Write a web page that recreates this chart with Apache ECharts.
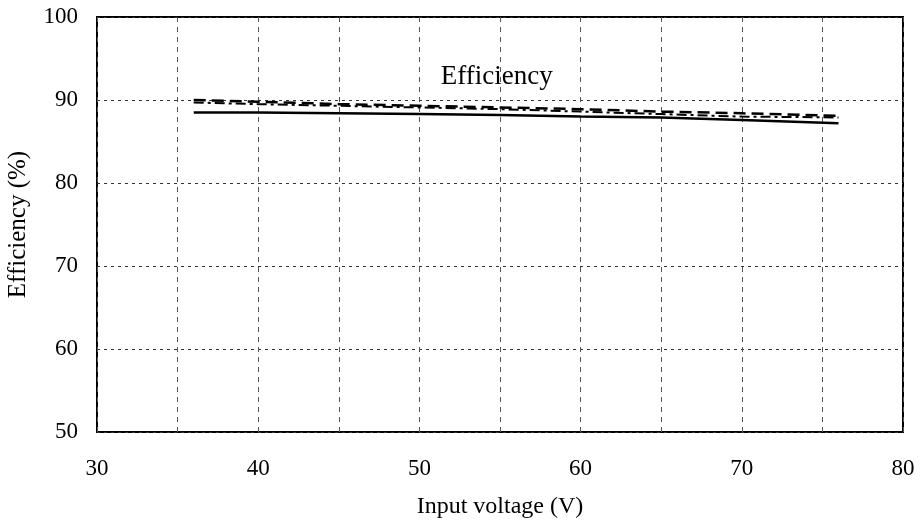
<!DOCTYPE html>
<html><head><meta charset="utf-8">
<script src="https://cdn.jsdelivr.net/npm/echarts@6/dist/echarts.min.js"></script>
<style>html,body{margin:0;padding:0;background:#fff}#c{width:923px;height:528px}</style>
</head><body><div id="c"></div>
<script>
const voltage = [36, 40, 45, 50, 55, 60, 65, 70, 76];
const effSolid = [88.5, 88.5, 88.4, 88.3, 88.2, 88.0, 87.9, 87.6, 87.2];
const effDashed = [90.0, 89.8, 89.5, 89.3, 89.1, 88.9, 88.6, 88.4, 88.1];
const effDashDot = [89.7, 89.5, 89.3, 89.1, 88.9, 88.6, 88.3, 88.0, 87.9];
const xTicks = [30, 40, 50, 60, 70, 80];
const yTicks = [50, 60, 70, 80, 90, 100];
const annotation = 'Efficiency';

const font = 'Liberation Serif, Times New Roman, serif';
const pair = (ys) => voltage.map((v, i) => [v, ys[i]]);
const chart = echarts.init(document.getElementById('c'));
chart.setOption({
  animation: false,
  backgroundColor: '#fff',
  grid: {left: 97, right: 20, top: 17, bottom: 96, outerBoundsMode: 'none', containLabel: false,
         show: true, borderColor: '#000', borderWidth: 2, backgroundColor: 'transparent'},
  xAxis: {
    type: 'value', min: 30, max: 80, interval: 5,
    name: 'Input voltage (V)', nameLocation: 'middle', nameGap: 63,
    nameTextStyle: {fontFamily: font, fontSize: 24, color: '#000'},
    axisLine: {show: false}, axisTick: {show: false},
    axisLabel: {fontFamily: font, fontSize: 23, color: '#000', margin: 25,
      formatter: v => xTicks.includes(v) ? String(v) : ''},
    splitLine: {show: true, lineStyle: {color: '#555', type: [5, 5], width: 1}}
  },
  yAxis: {
    type: 'value', min: 50, max: 100, interval: 10,
    name: 'Efficiency (%)', nameLocation: 'middle', nameGap: 66,
    nameTextStyle: {fontFamily: font, fontSize: 25, color: '#000'},
    axisLine: {show: false}, axisTick: {show: false},
    axisLabel: {fontFamily: font, fontSize: 23, color: '#000', margin: 19,
      formatter: v => yTicks.includes(v) ? String(v) : ''},
    splitLine: {show: true, lineStyle: {color: '#333', type: [3, 4], width: 1}}
  },
  series: [
    {type: 'line', data: pair(effSolid), showSymbol: false, lineStyle: {color: '#000', width: 2.5, type: 'solid'}},
    {type: 'line', data: pair(effDashed), showSymbol: false, lineStyle: {color: '#000', width: 2.5, type: [12, 6]}},
    {type: 'line', data: pair(effDashDot), showSymbol: false, lineStyle: {color: '#000', width: 2, type: [10, 4, 3, 4]},
     markPoint: {symbol: 'rect', symbolSize: 0,
       data: [{coord: [54.8, 92.8], value: annotation}],
       label: {show: true, formatter: annotation, fontFamily: font, fontSize: 27, color: '#000', position: 'inside'}}}
  ]
});
</script></body></html>
